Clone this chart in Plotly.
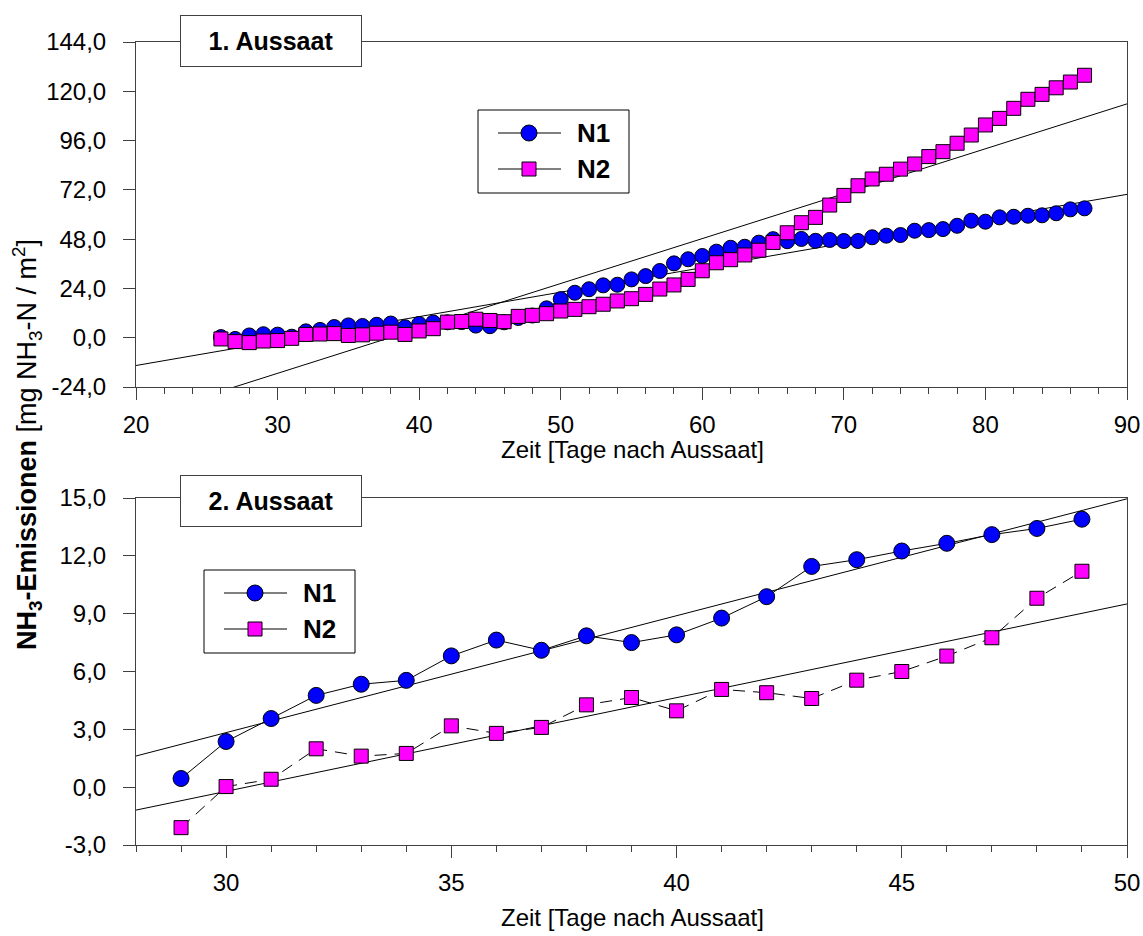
import numpy as np
import plotly.graph_objects as go

# ---- 1. Aussaat: cumulative NH3 emissions, days 26..87 ----
days_1 = list(range(26, 88))
n1_aussaat1 = [
    0.3, -0.6, 1.1, 1.7, 1.5, 0.5, 3.1, 3.8, 5.2, 6.0,
    5.7, 6.3, 6.9, 5.1, 6.7, 7.4, 7.5, 7.6, 5.9, 5.6,
    7.5, 9.6, 10.8, 14.3, 18.8, 21.9, 23.6, 25.5, 25.8, 28.4,
    30.0, 32.5, 36.2, 38.2, 39.8, 41.9, 43.8, 44.3, 46.3, 48.0,
    47.0, 48.1, 47.2, 47.6, 47.1, 47.1, 48.9, 49.7, 50.0, 52.1,
    52.4, 52.9, 54.5, 57.0, 56.5, 58.6, 58.9, 59.4, 59.6, 60.6,
    62.5, 63.0,
]
n2_aussaat1 = [
    -0.6, -1.9, -2.4, -1.6, -1.4, -0.3, 1.6, 1.8, 2.0, 1.1,
    1.4, 2.2, 2.7, 1.6, 3.3, 4.4, 7.6, 7.9, 9.0, 8.4,
    7.8, 10.4, 10.9, 11.7, 13.0, 13.8, 15.1, 16.3, 17.9, 19.0,
    21.1, 23.7, 25.7, 28.4, 32.6, 36.5, 38.0, 40.3, 42.6, 46.4,
    51.1, 56.0, 58.6, 64.6, 69.3, 74.0, 77.3, 79.6, 82.1, 84.6,
    88.2, 90.6, 94.7, 98.7, 103.6, 106.8, 111.7, 116.1, 118.5, 121.7,
    124.5, 127.8,
]

# ---- 2. Aussaat: cumulative NH3 emissions, days 29..49 ----
days_2 = list(range(29, 50))
n1_aussaat2 = [0.45, 2.37, 3.56, 4.76, 5.34, 5.54, 6.81, 7.63, 7.1, 7.85,
               7.5, 7.9, 8.77, 9.88, 11.45, 11.8, 12.25, 12.65, 13.1, 13.42, 13.9]
n2_aussaat2 = [-2.1, 0.03, 0.41, 1.99, 1.61, 1.75, 3.18, 2.79, 3.1, 4.27,
               4.65, 3.96, 5.07, 4.9, 4.6, 5.55, 6.0, 6.8, 7.75, 9.8, 11.2]

series_names = ["N1", "N2"]

# axis ranges and tick labels (German decimal comma)
x_range_1 = [20, 90]
y_range_1 = [-24, 144]
y_ticks_1 = [-24, 0, 24, 48, 72, 96, 120, 144]
x_range_2 = [28, 50]
y_range_2 = [-3, 15]
y_ticks_2 = [-3, 0, 3, 6, 9, 12, 15]


def comma(v):
    return f"{v:.1f}".replace(".", ",")


FONT = "Liberation Sans, Arial, sans-serif"
BLUE = "#0000FF"
MAGENTA = "#FF00FF"
FRAME = "#404040"

W, H = 1143, 936
X0, X1 = 136 / W, 1127 / W


def px(x):
    return x / W


def py(y):
    return 1 - y / H


def ydom(top_px, bottom_px):
    return [py(bottom_px), py(top_px)]


def fit_line(xs, ys, xr):
    k, d = np.polyfit(xs, ys, 1)
    xe = np.array(xr, dtype=float)
    return xe, k * xe + d


fig = go.Figure()

# regression lines (behind the measured series)
for xs, ys, xr, xa, ya in [
    (days_1, n1_aussaat1, x_range_1, "x", "y"),
    (days_1, n2_aussaat1, x_range_1, "x", "y"),
    (days_2, n1_aussaat2, x_range_2, "x2", "y2"),
    (days_2, n2_aussaat2, x_range_2, "x2", "y2"),
]:
    fx, fy = fit_line(xs, ys, xr)
    fig.add_trace(go.Scatter(x=fx, y=fy, mode="lines", xaxis=xa, yaxis=ya,
                             line=dict(color="black", width=1),
                             showlegend=False, hoverinfo="skip"))

# measured series, upper panel
fig.add_trace(go.Scatter(x=days_1, y=n1_aussaat1, mode="lines+markers", xaxis="x", yaxis="y",
                         name=series_names[0], line=dict(color="black", width=1),
                         marker=dict(symbol="circle", size=15, color=BLUE,
                                     line=dict(color="black", width=1)),
                         showlegend=False))
fig.add_trace(go.Scatter(x=days_1, y=n2_aussaat1, mode="lines+markers", xaxis="x", yaxis="y",
                         name=series_names[1], line=dict(color="black", width=1),
                         marker=dict(symbol="square", size=14, color=MAGENTA,
                                     line=dict(color="black", width=1)),
                         showlegend=False))

# measured series, lower panel
fig.add_trace(go.Scatter(x=days_2, y=n1_aussaat2, mode="lines+markers", xaxis="x2", yaxis="y2",
                         name=series_names[0], line=dict(color="black", width=1),
                         marker=dict(symbol="circle", size=16, color=BLUE,
                                     line=dict(color="black", width=1)),
                         showlegend=False))
fig.add_trace(go.Scatter(x=days_2, y=n2_aussaat2, mode="lines+markers", xaxis="x2", yaxis="y2",
                         name=series_names[1], line=dict(color="black", width=1, dash="12px,8px"),
                         marker=dict(symbol="square", size=14, color=MAGENTA,
                                     line=dict(color="black", width=1)),
                         showlegend=False))

axis_common = dict(showline=True, linecolor=FRAME, linewidth=1, mirror=True,
                   showgrid=False, zeroline=False, ticks="outside", tickcolor=FRAME,
                   automargin=False,
                   tickfont=dict(family=FONT, size=24, color="black"))

fig.update_layout(
    width=W, height=H,
    margin=dict(l=0, r=0, t=0, b=0),
    paper_bgcolor="white", plot_bgcolor="white",
    showlegend=False,
    xaxis=dict(domain=[X0, X1], anchor="y", range=x_range_1,
               tickvals=list(range(20, 91, 10)), ticklen=12, ticklabelstandoff=4,
               minor=dict(dtick=2, ticks="outside", ticklen=6, tickcolor=FRAME),
               **axis_common),
    yaxis=dict(domain=ydom(42, 387), anchor="x", range=y_range_1,
               tickvals=y_ticks_1, ticktext=[comma(v) for v in y_ticks_1],
               ticklen=12, ticklabelstandoff=12, **axis_common),
    xaxis2=dict(domain=[X0, X1], anchor="y2", range=x_range_2,
                tickvals=list(range(30, 51, 5)), ticklen=12, ticklabelstandoff=4,
                minor=dict(dtick=1, ticks="outside", ticklen=6, tickcolor=FRAME),
                **axis_common),
    yaxis2=dict(domain=ydom(498, 845), anchor="x2", range=y_range_2,
                tickvals=y_ticks_2, ticktext=[comma(v) for v in y_ticks_2],
                ticklen=12, ticklabelstandoff=12, **axis_common),
)

# panel titles in framed boxes sitting on the top frame line
for label, yc in [("1. Aussaat", 41.5), ("2. Aussaat", 501)]:
    fig.add_annotation(text=f"<b>{label}</b>", xref="paper", yref="paper",
                       x=px(271), y=py(yc), xanchor="center", yanchor="middle",
                       showarrow=False, bgcolor="white", bordercolor=FRAME, borderwidth=1,
                       borderpad=0, width=180, height=50,
                       font=dict(family=FONT, size=25, color="black"))


# framed legends: long line with centred marker, bold label
def draw_legend(left, top):
    fig.add_shape(type="rect", xref="paper", yref="paper",
                  x0=px(left), x1=px(left + 151), y0=py(top), y1=py(top + 83),
                  line=dict(color="black", width=1), fillcolor="white", layer="above")
    for i, name in enumerate(series_names):
        yc = top + 23 + 36 * i
        fig.add_shape(type="line", xref="paper", yref="paper",
                      x0=px(left + 20), x1=px(left + 83), y0=py(yc), y1=py(yc),
                      line=dict(color="black", width=1), layer="above")
        xc = left + 51
        if i == 0:
            fig.add_shape(type="circle", xref="paper", yref="paper",
                          x0=px(xc - 8), x1=px(xc + 8), y0=py(yc + 8), y1=py(yc - 8),
                          fillcolor=BLUE, line=dict(color="black", width=1), layer="above")
        else:
            fig.add_shape(type="rect", xref="paper", yref="paper",
                          x0=px(xc - 7), x1=px(xc + 7), y0=py(yc + 7), y1=py(yc - 7),
                          fillcolor=MAGENTA, line=dict(color="black", width=1), layer="above")
        fig.add_annotation(text=f"<b>{name}</b>", xref="paper", yref="paper",
                           x=px(left + 97), y=py(yc), xanchor="left", yanchor="middle",
                           showarrow=False, font=dict(family=FONT, size=26, color="black"))


draw_legend(478, 110)
draw_legend(204, 570)

for yc in [449, 917]:
    fig.add_annotation(text="Zeit [Tage nach Aussaat]", xref="paper", yref="paper",
                       x=px(632), y=py(yc), xanchor="center", yanchor="middle",
                       showarrow=False, font=dict(family=FONT, size=24, color="black"))

fig.add_annotation(
    text="<b>NH<sub>3</sub>-Emissionen</b> [mg NH<sub>3</sub>-N / m<sup>2</sup>]",
    xref="paper", yref="paper", x=px(27), y=py(445), xanchor="center", yanchor="middle",
    textangle=-90, showarrow=False, font=dict(family=FONT, size=27, color="black"))

fig.write_html("out.html")
